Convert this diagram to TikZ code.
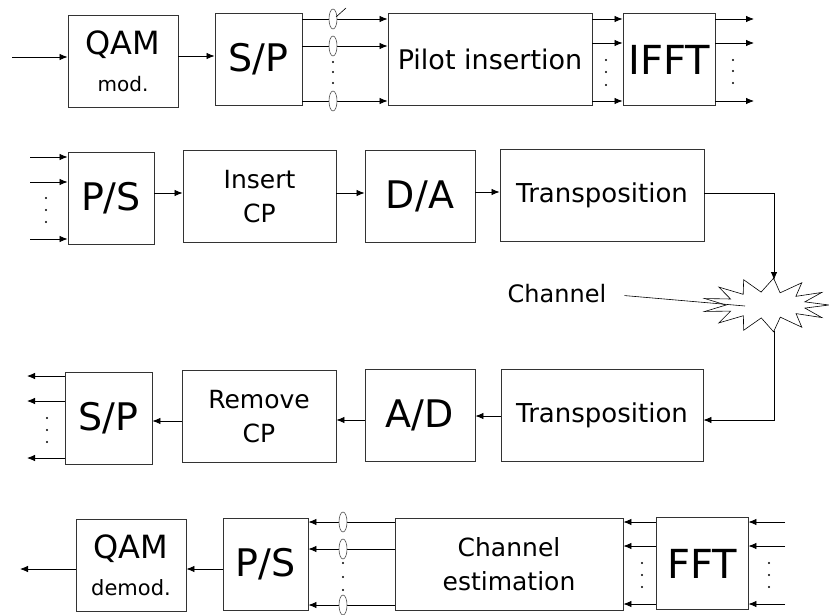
\documentclass[tikz,border=0pt]{standalone}
\usepackage{fontspec}
\setmainfont{DejaVu Sans}
\usetikzlibrary{arrows.meta,calc}

\tikzset{
  blk/.style={draw=black!80, line width=0.9pt, minimum height=92pt, inner sep=0pt, align=center},
  arr/.style={-{Latex[length=8pt,width=6.5pt]}, line width=0.8pt},
  ln/.style={line width=0.6pt},
  oval/.style={draw=black!70, fill=white, line width=0.6pt},
  fbig/.style={font=\fontsize{38}{40}\selectfont},
  fmid/.style={font=\fontsize{26}{30}\selectfont},
  fsml/.style={font=\fontsize{25}{34}\selectfont},
  fqam/.style={font=\fontsize{32}{37}\selectfont},
}

\begin{document}
\begin{tikzpicture}[x=1pt,y=-1pt]
  \useasboundingbox (0,0) rectangle (829,615);

  % transmitter, first row
  \node[blk, fqam, minimum width=110pt] (qam) at (123,61)
    {QAM\\{\fontsize{20}{24}\selectfont mod.}};
  \node[blk, fbig, minimum width=87pt] (sp1) at (258.5,59.5) {S/P};
  \node[blk, font=\fontsize{27}{30}\selectfont, minimum width=204pt] (pilot) at (490,59) {Pilot insertion};
  \node[blk, font=\fontsize{40}{42}\selectfont, minimum width=92pt] (ifft) at (669,59.5) {IFFT};

  \coordinate (src) at (12,57);
  \coordinate (ifftout) at (754,0);
  \draw[arr] (src) -- (src -| qam.west);
  \draw[arr] (qam.east |- 0,56) -- (sp1.west |- 0,56);
  \foreach \y in {19,46,101} \draw[arr] (sp1.east |- 0,\y) -- (pilot.west |- 0,\y);
  \foreach \y in {19,46,101} \draw[oval] (333,\y) ellipse (4pt and 10pt);
  \draw[ln] (336,17) -- (346,8);
  \foreach \y in {19,43,101} \draw[arr] (pilot.east |- 0,\y) -- (ifft.west |- 0,\y);
  \foreach \y in {19,43,101} \draw[arr] (ifft.east |- 0,\y) -- (ifftout |- 0,\y);
  \foreach \y in {62,72,83} \fill (333,\y) circle (1.2pt);
  \foreach \y in {60,72,85} \fill (606,\y) circle (1.2pt);
  \foreach \y in {60,71,83} \fill (733,\y) circle (1.2pt);

  % transmitter, second row
  \node[blk, fbig, minimum width=86pt] (ps1) at (111,198.5) {P/S};
  \node[blk, fsml, minimum width=153pt] (inscp) at (259.5,196.5) {Insert\\CP};
  \node[blk, fbig, minimum width=110pt] (da) at (420,196) {D/A};
  \node[blk, fmid, minimum width=204pt] (tr1) at (602,195.5) {Transposition};

  \coordinate (psin) at (30,0);
  \foreach \y in {157,182,239} \draw[arr] (psin |- 0,\y) -- (ps1.west |- 0,\y);
  \foreach \y in {198,210,222} \fill (46,\y) circle (1.2pt);
  \draw[arr] (ps1.east |- 0,193) -- (inscp.west |- 0,193);
  \draw[arr] (inscp.east |- 0,193) -- (da.west |- 0,193);
  \draw[arr] (da.east |- 0,192) -- (tr1.west |- 0,192);

  % channel
  \coordinate (burst) at (766,305);
  \coordinate (bursttop) at (774,280);
  \coordinate (burstbot) at (774,331);
  \coordinate (chpt) at (745,306);
  \draw[ln, fill=white] ($(burst)+(0:63 and 27)$)
    \foreach \i in {1,...,13} {
      -- ($(burst)+({\i*360/13-14}:40 and 13)$) -- ($(burst)+({\i*360/13}:63 and 27)$)
    } -- cycle;
  \node[font=\fontsize{24}{28}\selectfont, inner sep=0pt] (chl) at (557,294) {Channel};
  \draw[ln, shorten <=18pt] (chl.east) -- (chpt);
  \draw[arr] (tr1.east |- 0,193) -| (bursttop);

  % receiver, third row
  \node[blk, fbig, minimum width=87pt] (sp2) at (108.5,418) {S/P};
  \node[blk, fsml, minimum width=154pt] (rmcp) at (259,416.5) {Remove\\CP};
  \node[blk, fbig, minimum width=110pt] (ad) at (420,415.5) {A/D};
  \node[blk, fmid, minimum width=202pt] (tr2) at (602,415) {Transposition};

  \draw[arr] (burstbot) |- (tr2.east |- 0,420);
  \draw[arr] (tr2.west |- 0,416) -- (ad.east |- 0,416);
  \draw[arr] (ad.west |- 0,420) -- (rmcp.east |- 0,420);
  \draw[arr] (rmcp.west |- 0,421) -- (sp2.east |- 0,421);
  \coordinate (spout) at (27,0);
  \foreach \y in {376,401,458} \draw[arr] (sp2.west |- 0,\y) -- (spout |- 0,\y);
  \foreach \y in {418,430,442} \fill (47,\y) circle (1.2pt);

  % receiver, fourth row
  \node[blk, fqam, minimum width=110pt] (qamd) at (131,565.5)
    {QAM\\{\fontsize{21}{24}\selectfont demod.}};
  \node[blk, fbig, minimum width=85pt] (ps2) at (265.5,564) {P/S};
  \node[blk, fsml, minimum width=228pt] (ce) at (509,564) {Channel\\estimation};
  \node[blk, font=\fontsize{40}{42}\selectfont, minimum width=92pt] (fft) at (702,563.5) {FFT};

  \coordinate (fftin) at (785,0);
  \coordinate (sink) at (20,569);
  \foreach \y in {522,546,604} \draw[arr] (fftin |- 0,\y) -- (fft.east |- 0,\y);
  \foreach \y in {522,546,604} \draw[arr] (fft.west |- 0,\y) -- (ce.east |- 0,\y);
  \foreach \y in {522,549,605} \draw[arr] (ce.west |- 0,\y) -- (ps2.east |- 0,\y);
  \foreach \y in {522,549,605} \draw[oval] (343,\y) ellipse (4pt and 10pt);
  \foreach \y in {563,577,590} \fill (343,\y) circle (1.2pt);
  \foreach \y in {563,575,587} \fill (642,\y) circle (1.2pt);
  \foreach \y in {563,575,587} \fill (769,\y) circle (1.2pt);
  \draw[arr] (ps2.west |- 0,569) -- (qamd.east |- 0,569);
  \draw[arr] (qamd.west |- sink) -- (sink);
\end{tikzpicture}
\end{document}
